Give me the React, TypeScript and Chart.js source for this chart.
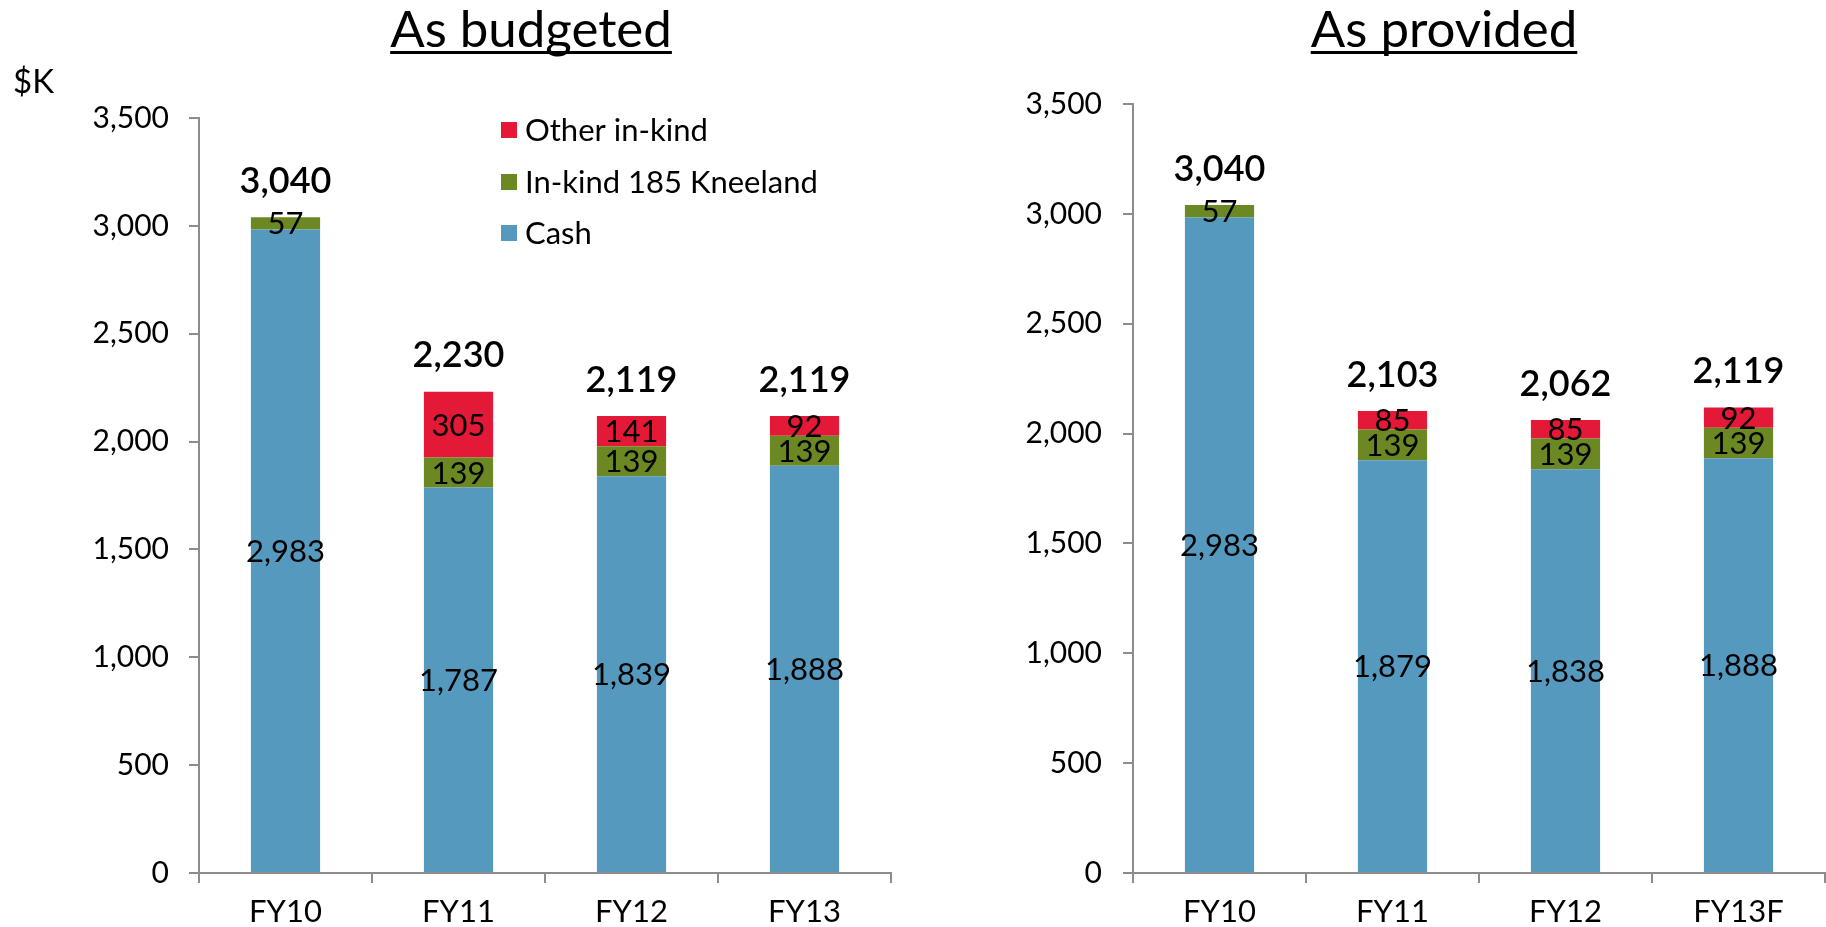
import React, { useEffect, useRef } from "react";
import { Chart, registerables } from "chart.js";

Chart.register(...registerables);

const seriesNames = ["Cash", "In-kind 185 Kneeland", "Other in-kind"];
const seriesColors = ["#5599BE", "#6B8823", "#E31937"];

const categoriesBudgeted = ["FY10", "FY11", "FY12", "FY13"];
const cashBudgeted = [2983, 1787, 1839, 1888];
const kneelandBudgeted = [57, 139, 139, 139];
const otherBudgeted = [0, 305, 141, 92];
const totalsBudgeted = [3040, 2230, 2119, 2119];

const categoriesProvided = ["FY10", "FY11", "FY12", "FY13F"];
const cashProvided = [2983, 1879, 1838, 1888];
const kneelandProvided = [57, 139, 139, 139];
const otherProvided = [0, 85, 85, 92];
const totalsProvided = [3040, 2103, 2062, 2119];

const yMin = 0;
const yMax = 3500;
const yStep = 500;

const FONT = 'Lato, "Noto Sans", "DejaVu Sans", sans-serif';
const fmt = (v: number) => v.toLocaleString("en-US");

type Cfg = {
  title: string;
  categories: string[];
  series: number[][];
  totals: number[];
  showUnit: boolean;
  showLegend: boolean;
  padTop: number;
  padRight: number;
  yWidth: number;
  yLabelPad: number;
};

function makePlugin(cfg: Cfg) {
  return {
    id: "custom-" + cfg.title,
    afterDatasetsDraw(chart: any) {
      const ctx = chart.ctx;
      ctx.save();
      ctx.fillStyle = "#000";
      ctx.textAlign = "center";
      ctx.textBaseline = "middle";
      // segment labels
      ctx.font = `31px ${FONT}`;
      chart.data.datasets.forEach((ds: any, di: number) => {
        const meta = chart.getDatasetMeta(di);
        meta.data.forEach((el: any, i: number) => {
          const v = ds.data[i];
          if (!v) return;
          const p = el.getProps(["x", "y", "base"], true);
          ctx.fillText(fmt(v), p.x, (p.y + p.base) / 2 + 1);
        });
      });
      // totals
      ctx.font = `600 36px ${FONT}`;
      const n = chart.data.labels.length;
      for (let i = 0; i < n; i++) {
        let top = Infinity;
        let x = 0;
        chart.data.datasets.forEach((ds: any, di: number) => {
          const el = chart.getDatasetMeta(di).data[i];
          const p = el.getProps(["x", "y"], true);
          x = p.x;
          if (p.y < top) top = p.y;
        });
        ctx.fillText(fmt(cfg.totals[i]), x, top - 36);
      }
      ctx.restore();
    },
    afterDraw(chart: any) {
      const ctx = chart.ctx;
      ctx.save();
      ctx.fillStyle = "#000";
      // title
      ctx.font = `51px ${FONT}`;
      ctx.textAlign = "center";
      ctx.textBaseline = "middle";
      const cx = 531;
      ctx.fillText(cfg.title, cx, 31);
      const w = ctx.measureText(cfg.title).width;
      ctx.fillRect(cx - w / 2, 51, w, 3);
      if (cfg.showUnit) {
        ctx.font = `33px ${FONT}`;
        ctx.textAlign = "left";
        ctx.fillText("$K", 13, 82);
      }
      if (cfg.showLegend) {
        const ys = [130, 182, 233];
        ctx.font = `31px ${FONT}`;
        ctx.textAlign = "left";
        const order = [2, 1, 0];
        order.forEach((di, k) => {
          const ds = chart.data.datasets[di];
          ctx.fillStyle = ds.backgroundColor;
          ctx.fillRect(501, ys[k] - 8, 16, 16);
          ctx.fillStyle = "#000";
          ctx.fillText(ds.label, 525, ys[k] + 1);
        });
      }
      ctx.restore();
    },
  };
}

function BarPanel({ cfg }: { cfg: Cfg }) {
  const ref = useRef<HTMLCanvasElement | null>(null);
  useEffect(() => {
    if (!ref.current) return;
    const chart = new Chart(ref.current, {
      type: "bar",
      data: {
        labels: cfg.categories,
        datasets: cfg.series.map((d, i) => ({
          label: seriesNames[i],
          data: d,
          backgroundColor: seriesColors[i],
          borderWidth: 0,
          barPercentage: 0.8,
          categoryPercentage: 0.5,
        })),
      },
      options: {
        responsive: false,
        animation: false,
        layout: { padding: { top: cfg.padTop, right: cfg.padRight, left: 0, bottom: 0 } },
        plugins: { legend: { display: false }, tooltip: { enabled: false }, title: { display: false } },
        scales: {
          x: {
            stacked: true,
            grid: { offset: true, drawOnChartArea: false, drawTicks: true, tickLength: 10, color: "#8c8c8c", lineWidth: 2 },
            border: { color: "#8c8c8c", width: 2 },
            ticks: { color: "#000", font: { family: FONT, size: 31 }, padding: 10, maxRotation: 0 },
            afterFit: (s: any) => {
              s.height = 54;
            },
          },
          y: {
            stacked: true,
            min: yMin,
            max: yMax,
            grid: { drawOnChartArea: false, drawTicks: true, tickLength: 10, color: "#8c8c8c", lineWidth: 2 },
            border: { color: "#8c8c8c", width: 2 },
            ticks: {
              stepSize: yStep,
              color: "#000",
              padding: cfg.yLabelPad,
              font: { family: FONT, size: 30 },
              callback: (v: any) => fmt(Number(v)),
            },
            afterFit: (s: any) => {
              s.width = cfg.yWidth;
            },
          },
        },
      },
      plugins: [makePlugin(cfg)],
    });
    return () => chart.destroy();
  }, []);
  return <canvas ref={ref} width={913} height={927} style={{ width: 913, height: 927, display: "block" }} />;
}

export default function App() {
  const left: Cfg = {
    title: "As budgeted",
    categories: categoriesBudgeted,
    series: [cashBudgeted, kneelandBudgeted, otherBudgeted],
    totals: totalsBudgeted,
    showUnit: true,
    showLegend: true,
    padTop: 118,
    padRight: 22,
    yWidth: 199,
    yLabelPad: 20,
  };
  const right: Cfg = {
    title: "As provided",
    categories: categoriesProvided,
    series: [cashProvided, kneelandProvided, otherProvided],
    totals: totalsProvided,
    showUnit: false,
    showLegend: false,
    padTop: 104,
    padRight: 1,
    yWidth: 220,
    yLabelPad: 21,
  };
  return (
    <div style={{ position: "fixed", left: 0, top: 0, width: 1826, height: 927, background: "#fff", display: "flex" }}>
      <BarPanel cfg={left} />
      <BarPanel cfg={right} />
    </div>
  );
}
